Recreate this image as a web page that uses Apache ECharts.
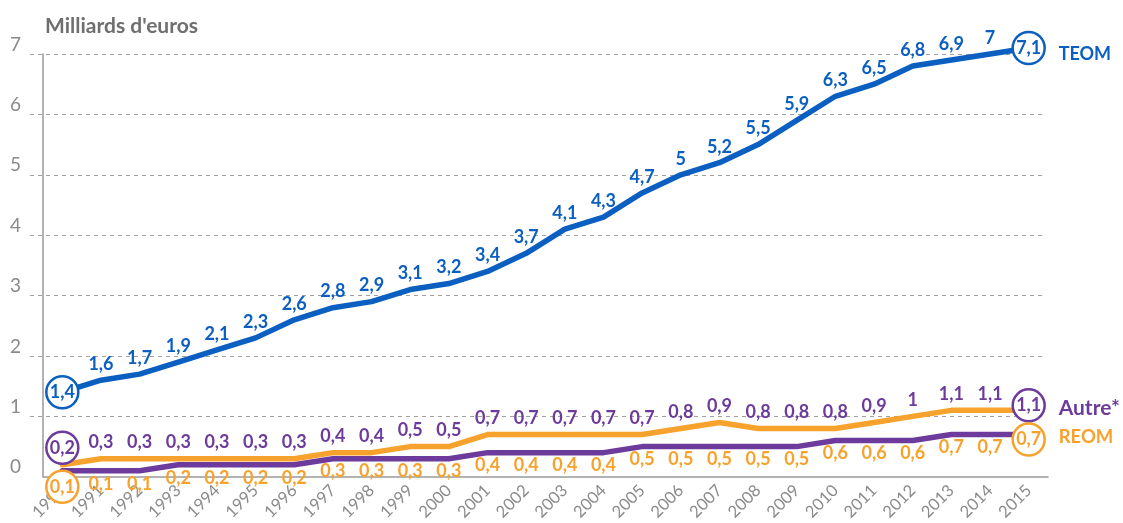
<!DOCTYPE html>
<html>
<head>
<meta charset="utf-8">
<script src="https://cdn.jsdelivr.net/npm/echarts@6/dist/echarts.min.js"></script>
<style>
  html, body { margin: 0; background: #fff; }
  #chart { width: 1123px; height: 523px; }
</style>
</head>
<body>
<div id="chart"></div>
<script>
// données (milliards d'euros)
const years = ['1990', '1991', '1992', '1993', '1994', '1995', '1996', '1997', '1998', '1999', '2000', '2001', '2002',
  '2003', '2004', '2005', '2006', '2007', '2008', '2009', '2010', '2011', '2012', '2013', '2014', '2015']
const teom = [1.4, 1.6, 1.7, 1.9, 2.1, 2.3, 2.6, 2.8, 2.9, 3.1, 3.2, 3.4, 3.7, 4.1, 4.3, 4.7, 5, 5.2, 5.5, 5.9, 6.3, 6.5, 6.8, 6.9, 7, 7.1]
const autre = [0.2, 0.3, 0.3, 0.3, 0.3, 0.3, 0.3, 0.4, 0.4, 0.5, 0.5, 0.7, 0.7, 0.7, 0.7, 0.7, 0.8, 0.9, 0.8, 0.8, 0.8, 0.9, 1, 1.1, 1.1, 1.1]
const reom = [0.1, 0.1, 0.1, 0.2, 0.2, 0.2, 0.2, 0.3, 0.3, 0.3, 0.3, 0.4, 0.4, 0.4, 0.4, 0.5, 0.5, 0.5, 0.5, 0.5, 0.6, 0.6, 0.6, 0.7, 0.7, 0.7]

const blue = '#0b5fc1'
const orange = '#f6a22c'
const purple = '#6c3b9b'
const gray = '#8a8a8a'
const font = 'Lato'

const fr = v => String(v).replace('.', ',')

// premier et dernier point : valeur dans un cercle
function ringData(values, color, firstOffset, lastOffset) {
  return values.map((v, i) => {
    if (i !== 0 && i !== values.length - 1) return v
    const off = i === 0 ? firstOffset : lastOffset
    return {
      value: v,
      symbolSize: 32,
      symbolOffset: [0, off],
      itemStyle: { color: '#fff', borderColor: color, borderWidth: 2.5 },
      label: { position: 'inside' },
    }
  })
}

function lineSeries(name, values, lineColor, labelColor, labelPos, labelDist, offs, endOffset, endSize) {
  return {
    name: name,
    type: 'line',
    xAxisIndex: 1,
    yAxisIndex: 1,
    clip: false,
    data: ringData(values, labelColor, offs[0], offs[1]),
    symbol: 'circle',
    symbolSize: 2,
    showSymbol: true,
    itemStyle: { color: 'rgba(0,0,0,0)' },
    lineStyle: { color: lineColor, width: 5.5, cap: 'round', join: 'round' },
    label: {
      show: true,
      position: labelPos,
      distance: labelDist,
      color: labelColor,
      fontFamily: font,
      fontWeight: 'bold',
      fontSize: 18,
      formatter: p => fr(p.value),
    },
    endLabel: {
      show: true,
      formatter: name,
      distance: 30,
      offset: [0, endOffset],
      color: labelColor,
      fontFamily: font,
      fontWeight: 'bold',
      fontSize: endSize,
    },
    z: 3,
  }
}

const chart = echarts.init(document.getElementById('chart'))
chart.setOption({
  animation: false,
  title: {
    text: "Milliards d'euros",
    left: 40,
    top: 11,
    textStyle: { color: '#6f6f6f', fontFamily: font, fontWeight: 'bold', fontSize: 21 },
  },
  grid: [
    { left: 30, right: 78, top: 54, bottom: 106.4 }, // lignes pointillées
    { left: 43, right: 75, top: 54, bottom: 46 },
  ],
  xAxis: [
    { gridIndex: 0, type: 'category', data: years, show: false },
    {
      gridIndex: 1,
      type: 'category',
      data: years,
      boundaryGap: true,
      axisLine: { lineStyle: { color: '#9a9a9a', width: 1.5 } },
      axisTick: { alignWithLabel: true, length: 5, lineStyle: { color: '#9a9a9a' } },
      axisLabel: { interval: 0, rotate: 45, margin: 11, color: gray, fontFamily: font, fontSize: 16.5 },
    },
  ],
  yAxis: [
    {
      gridIndex: 0,
      type: 'value',
      min: 1,
      max: 7,
      interval: 1,
      axisLine: { show: false },
      axisTick: { show: false },
      axisLabel: { show: false },
      splitLine: { lineStyle: { color: '#a0a0a0', type: [4, 4], width: 1 } },
    },
    {
      gridIndex: 1,
      type: 'value',
      min: 0,
      max: 7,
      interval: 1,
      axisLine: { show: true, lineStyle: { color: '#9a9a9a', width: 1.5 } },
      axisTick: { show: false },
      splitLine: { show: false },
      axisLabel: { margin: 22, verticalAlign: 'bottom', color: gray, fontFamily: font, fontSize: 19 },
    },
  ],
  series: [
    lineSeries('TEOM', teom, blue, blue, 'top', 6, [0, 0], 6, 18),
    // la courbe orange porte les valeurs « Autre* » (étiquettes violettes)
    lineSeries('Autre*', autre, orange, purple, 'top', 6, [-17, -5], -2, 21),
    // la courbe violette porte les valeurs REOM (étiquettes orange)
    lineSeries('REOM', reom, purple, orange, 'bottom', 3, [16, 5], 3, 18.5),
  ],
})
</script>
</body>
</html>
